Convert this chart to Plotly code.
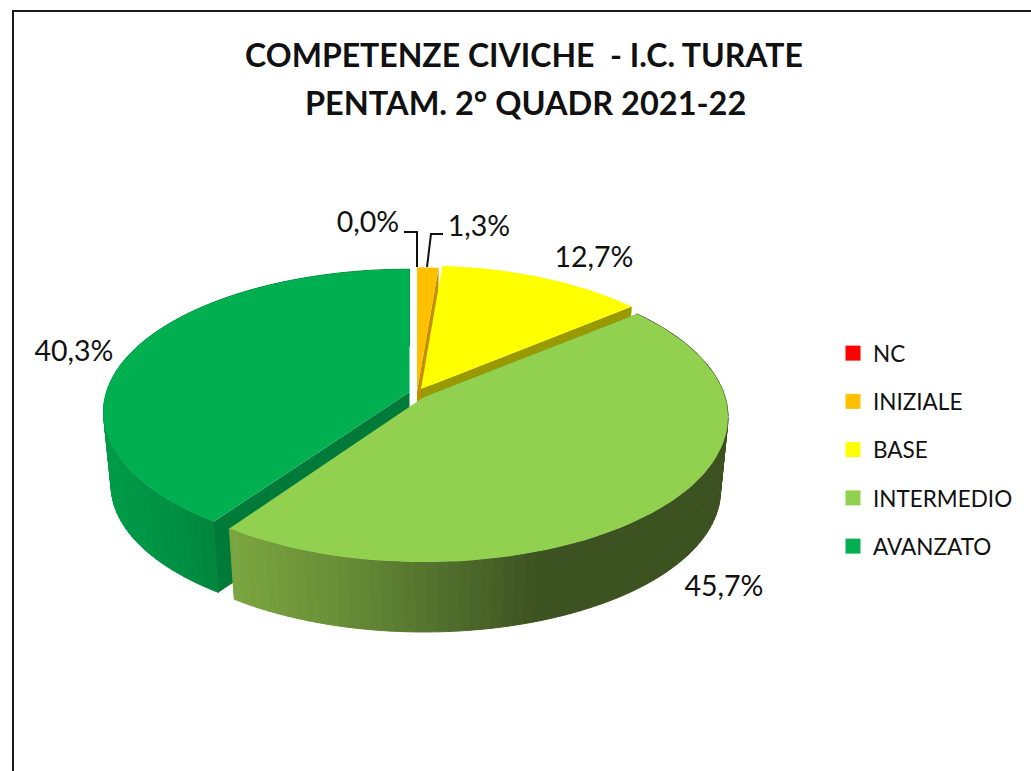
import numpy as np
import plotly.graph_objects as go

categories = ["NC", "INIZIALE", "BASE", "INTERMEDIO", "AVANZATO"]
values = [0.0, 1.3, 12.7, 45.7, 40.3]
label_text = ["0,0%", "1,3%", "12,7%", "45,7%", "40,3%"]
title_lines = ["COMPETENZE CIVICHE  - I.C. TURATE", "PENTAM. 2° QUADR 2021-22"]

colors = ["#FF0000", "#FFC000", "#FFFF00", "#92D050", "#00B050"]
cut_colors = ["#990000", "#C48F00", "#999900", "#58802F", "#007A38"]

# drawing geometry (pixel-aligned axes)
W, H = 1031, 771
K = 0.14
DEPTH = 74
SHRINK = 0.975
centers = [(417, 391), (417, 391), (421, 389), (424, 397), (409.5, 392)]
radii = [(302, 141), (302, 141), (298, 141), (301, 142), (303, 140)]
label_pos = [(368, 225), (479, 229), (594, 260), (724, 589), (74, 354)]


def project(i, t, f=1.0, d=0.0):
    cx, cy = centers[i]
    R, Rp = radii[i]
    X, Y = np.sin(t), np.cos(t)
    s = 1 / (1 + K * Y)
    return cx + f * R * X * s, cy + d - f * Rp * Y * s


def lerp_color(x, stops):
    xs = [p[0] for p in stops]
    return "rgb({:.0f},{:.0f},{:.0f})".format(
        *[np.interp(x, xs, [p[1][c] for p in stops]) for c in range(3)]
    )


wall_stops = {
    3: [(228, (124, 166, 64)), (330, (106, 144, 56)), (420, (86, 118, 48)), (540, (60, 82, 32)), (730, (60, 82, 32))],
    4: [(100, (0, 156, 72)), (160, (0, 146, 68)), (216, (0, 132, 60))],
}

fractions = np.array(values) / sum(values)
edges = np.concatenate([[0], np.cumsum(fractions)]) * 2 * np.pi

fig = go.Figure()


def poly(x, y, color, line=0):
    fig.add_trace(go.Scatter(
        x=list(x), y=list(y), mode="lines", fill="toself", fillcolor=color,
        line=dict(color=color, width=line), showlegend=False, hoverinfo="skip",
    ))


def draw_slice(i, wall=True, start_cut=False):
    a, b = edges[i], edges[i + 1]
    cx, cy = centers[i]
    ts = np.linspace(a, b, 90)
    if wall:
        for t0, t1 in zip(ts[:-1], ts[1:]):
            xa, ya = project(i, t0)
            xb, yb = project(i, t1)
            xc, yc = project(i, t1, SHRINK, DEPTH)
            xd, yd = project(i, t0, SHRINK, DEPTH)
            col = lerp_color((xa + xb) / 2, wall_stops[i]) if i in wall_stops else cut_colors[i]
            poly([xa, xb, xc, xd, xa], [ya, yb, yc, yd, ya], col, 1)
    # radial cut face that faces the viewer
    tc = a if start_cut else b
    xo, yo = project(i, tc)
    xo2, yo2 = project(i, tc, SHRINK, DEPTH)
    poly([cx, xo, xo2, cx, cx], [cy, yo, yo2, cy + DEPTH, cy], cut_colors[i])
    xs, ys = project(i, ts)
    poly([cx, *xs, cx], [cy, *ys, cy], colors[i])


draw_slice(4, wall=True, start_cut=True)    # AVANZATO
draw_slice(1, wall=False, start_cut=False)  # INIZIALE
draw_slice(2, wall=False, start_cut=False)  # BASE
draw_slice(3, wall=True, start_cut=True)    # INTERMEDIO

# leader lines
fig.add_trace(go.Scatter(x=[404, 417, 417], y=[232, 232, 267], mode="lines",
                         line=dict(color="#111111", width=2), showlegend=False, hoverinfo="skip"))
fig.add_trace(go.Scatter(x=[443, 431, 427], y=[234, 234, 267], mode="lines",
                         line=dict(color="#111111", width=2), showlegend=False, hoverinfo="skip"))

# value labels
fig.add_trace(go.Scatter(
    x=[p[0] for p in label_pos], y=[p[1] for p in label_pos], text=label_text,
    mode="text", textposition="middle center",
    textfont=dict(family="Lato", size=28.5, color="#111111"), showlegend=False, hoverinfo="skip",
))

# legend
for i, name in enumerate(categories):
    fig.add_trace(go.Scatter(
        x=[None], y=[None], mode="markers", name=name, legendgroup=name,
        marker=dict(symbol="square", size=15, color=colors[i]),
    ))

title_font = dict(family="Lato", size=32, color="#111111", weight="bold")
fig.update_layout(
    width=W, height=H, autosize=False,
    margin=dict(l=0, r=0, t=0, b=0),
    paper_bgcolor="white", plot_bgcolor="white",
    xaxis=dict(range=[0, W], visible=False, domain=[0, 1]),
    yaxis=dict(range=[H, 0], visible=False, domain=[0, 1]),
    title=dict(
        text=title_lines[0], x=524 / W, xanchor="center", y=1 - 56 / H, yanchor="middle",
        font=title_font,
    ),
    annotations=[dict(text=title_lines[1], x=525, y=102, xref="x", yref="y", showarrow=False,
                      xanchor="center", yanchor="middle", font=dict(title_font, size=32.5))],
    legend=dict(
        x=833 / W, xanchor="left", y=1 - 332 / H, yanchor="top", tracegroupgap=16,
        font=dict(family="Lato", size=22.5, color="#111111"), bgcolor="rgba(0,0,0,0)",
    ),
    shapes=[dict(type="rect", xref="x", yref="y", x0=13, y0=11, x1=W + 20, y1=H + 20,
                 line=dict(color="#1a1a1a", width=2), layer="above")],
)

fig.write_html("out.html", config={"displayModeBar": False},
               post_script="document.body.style.margin='0';document.body.style.overflow='hidden';")
